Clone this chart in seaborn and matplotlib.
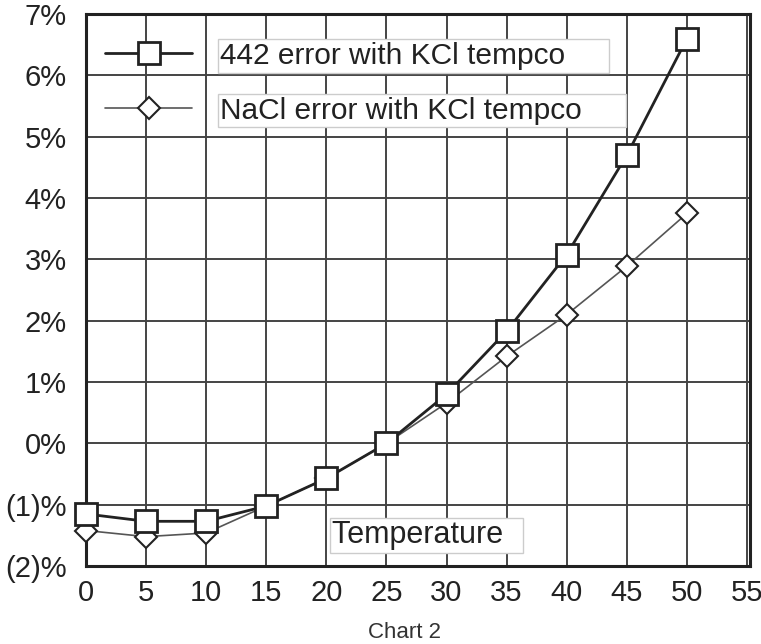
import numpy as np
import pandas as pd
import matplotlib
matplotlib.use("Agg")
import matplotlib.pyplot as plt
import seaborn as sns

# data (percent error vs temperature)
temps = [0, 5, 10, 15, 20, 25, 30, 35, 40, 45, 50]
err_442 = [-1.15, -1.27, -1.27, -1.02, -0.57, 0.0, 0.80, 1.83, 3.08, 4.70, 6.60]
err_nacl = [-1.42, -1.52, -1.46, -1.02, -0.57, 0.0, 0.66, 1.42, 2.10, 2.89, 3.75]
series_names = ["442 error with KCl tempco", "NaCl error with KCl tempco"]
y_ticks = [-2, -1, 0, 1, 2, 3, 4, 5, 6, 7]
y_labels = ["(2)%", "(1)%", "0%", "1%", "2%", "3%", "4%", "5%", "6%", "7%"]
x_ticks = list(range(0, 60, 5))

sns.set_style("white")
plt.rcParams["font.family"] = ["Liberation Sans", "DejaVu Sans"]

fig = plt.figure(figsize=(7.61, 6.44), dpi=100)
ax = fig.add_axes([0.113, 0.121, 0.8725, 0.857])

df = pd.DataFrame({"temp": temps, "e442": err_442, "enacl": err_nacl})

sns.lineplot(data=df, x="temp", y="enacl", ax=ax, color="#555555", lw=1.2,
             marker="D", markersize=11, markerfacecolor="white",
             markeredgecolor="#222222", markeredgewidth=1.5,
             label=series_names[1], zorder=3, clip_on=False)
sns.lineplot(data=df, x="temp", y="e442", ax=ax, color="#222222", lw=2,
             marker="s", markersize=16.5, markerfacecolor="white",
             markeredgecolor="#222222", markeredgewidth=2,
             label=series_names[0], zorder=4, clip_on=False)

ax.set_xlim(0, 55.25)
ax.set_ylim(-2, 7)
ax.set_xticks(x_ticks)
ax.set_yticks(y_ticks)
ax.set_yticklabels(y_labels)
ax.tick_params(axis="y", length=7, width=1.3, pad=7, labelsize=21, color="#444444")
ax.tick_params(axis="x", length=4.5, width=1.3, pad=5, labelsize=21, color="#444444")
for lab in ax.get_xticklabels() + ax.get_yticklabels():
    lab.set_color("#222222")
ax.grid(True, color="#444444", lw=1.4)
ax.set_axisbelow(True)
for sp in ax.spines.values():
    sp.set_color("#222222")
    sp.set_linewidth(2.2)
ax.set_xlabel("")
ax.set_ylabel("")

# legend with boxed labels
handles, labels = ax.get_legend_handles_labels()
labels = [l + "     " for l in labels]
leg = ax.legend(handles[::-1], labels[::-1], loc="upper left",
                bbox_to_anchor=(0.0, 0.985), frameon=False, fontsize=21.5,
                handlelength=2.9, handletextpad=0.95, labelspacing=0.9,
                borderaxespad=0.25)
for t in leg.get_texts():
    t.set_color("#222222")
    t.set_bbox(dict(facecolor="white", edgecolor="#cccccc", lw=1, pad=2))

ax.text(20.5, -1.5, "Temperature  ", fontsize=22, color="#222222", va="center",
        ha="left", bbox=dict(facecolor="white", edgecolor="#cccccc", lw=1, pad=2),
        zorder=5)

fig.text(405 / 761, 1 - 632 / 644, "Chart 2", ha="center", va="center",
         fontsize=16, color="#333333")

fig.savefig("out.png", dpi=100)
